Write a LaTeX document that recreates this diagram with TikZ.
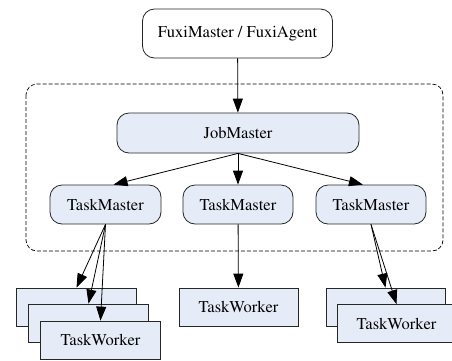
\documentclass[tikz,border=0pt]{standalone}
\usepackage[T1]{fontenc}
\usepackage{mathptmx}
\usetikzlibrary{arrows.meta}
\definecolor{boxfill}{RGB}{230,236,247}

\begin{document}
\begin{tikzpicture}[x=1pt, y=-1pt, line width=0.8pt,
  every node/.style={draw=black!85, inner sep=0pt, font=\fontsize{16.5}{19}\selectfont},
  master/.style={rounded corners=12pt, fill=boxfill, minimum height=39pt},
  worker/.style={fill=boxfill, minimum width=120pt, minimum height=38pt},
  >={Triangle[length=14pt,width=10pt]}]
\useasboundingbox (0,0) rectangle (452,360);

% scheduler on top
\node[rounded corners=12pt, fill=white, minimum width=190pt, minimum height=49pt] (fuxi) at (237.5,33.5) {FuxiMaster / FuxiAgent};

% dashed frame round the job
\draw[dash pattern=on 4pt off 2pt, line width=0.7pt, rounded corners=11pt] (26,84) rectangle (443,251);

\node[master, minimum width=242pt, minimum height=40pt] (job) at (238,133) {JobMaster};
\node[master, minimum width=111pt] (tm1) at (105.5,204.5) {TaskMaster};
\node[master, minimum width=110pt] (tm2) at (238,204.5) {TaskMaster};
\node[master, minimum width=110pt] (tm3) at (371,204.5) {TaskMaster};

% stacked workers
\node[worker] (w1a) at (76.5,307) {};
\node[worker] (w1b) at (88.5,323) {};
\node[worker] (w1c) at (100.5,340) {TaskWorker};
\node[worker, minimum width=119pt] (w2) at (238.5,307) {TaskWorker};
\node[worker, minimum width=119pt] (w3a) at (385.5,307) {};
\node[worker, minimum width=119pt] (w3b) at (396.5,323.5) {TaskWorker};

% arrows
\draw[->] (fuxi) -- (job);
\draw[->] (job.south) -- (tm1.68);
\draw[->] (job.south) -- (tm2);
\draw[->] (job.south) -- (tm3.112);
\draw[->] (tm1.south) -- (w1a.north);
\draw[->] (tm1.south) -- (w1b.north);
\draw[->] (tm1.south) -- (w1c.north);
\draw[->] (tm2) -- (w2);
\draw[->] (tm3.south) -- (w3a.north);
\draw[->] (tm3.south) -- (w3b.north);
\end{tikzpicture}
\end{document}
